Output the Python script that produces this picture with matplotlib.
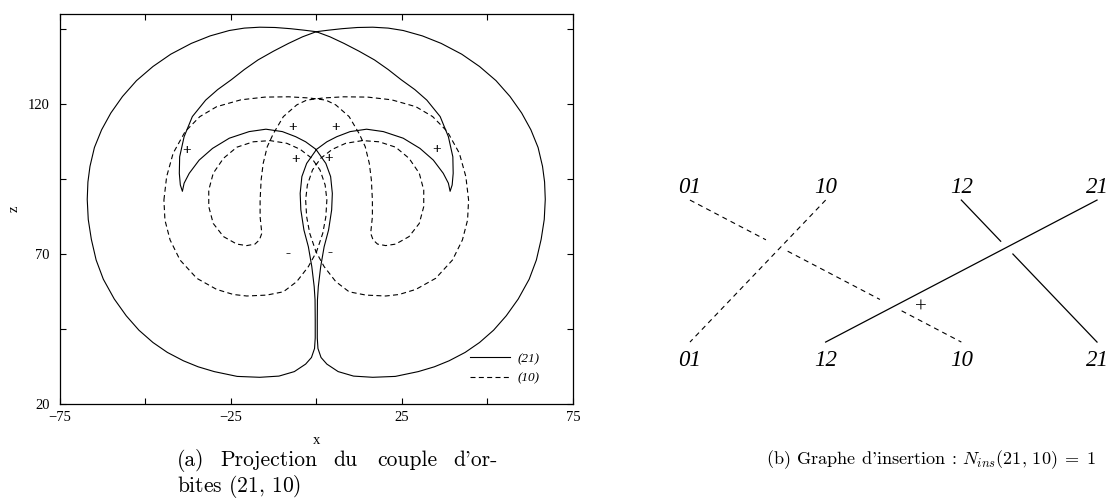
import matplotlib
matplotlib.use("Agg")
import matplotlib.pyplot as plt

plt.rcParams['font.family'] = ['Liberation Serif', 'DejaVu Serif']
plt.rcParams['mathtext.fontset'] = 'cm'
plt.rcParams['lines.scale_dashes'] = False

# orbite (21), trait plein (x, z)
x21 = [0.0, 4.0, 8.1, 12.5, 17.0, 21.0, 24.8, 28.8, 32.3, 36.2, 38.6, 39.9, 40.0, 39.7, 39.1,
       38.6, 37.1, 34.2, 30.3, 25.4, 19.6, 14.7, 9.9, 6.0, 3.1, 0.1,
       -2.8, -4.2, -4.7, -4.5, -3.6, -2.3, -1.3, -0.6, -0.35, -0.3, -0.3, -0.5, -1.4, -3.1, -6.4, -10.9, -16.5,
       -23.1, -29.8, -34.5, -38.8, -43.5, -47.7, -51.8, -55.5, -59.0, -62.2, -64.3, -65.7, -66.6, -66.9, -66.7,
       -66.1, -64.8, -62.7, -60.0, -56.6, -52.5, -47.7, -42.5, -36.5, -31.0, -25.4, -21.0, -16.5, -12.0, -7.5, -3.5,
       0.0, -4.0, -8.1, -12.5, -17.0, -21.0, -24.8, -28.8, -32.3, -36.2, -38.6, -39.9, -40.0, -39.7, -39.1,
       -38.6, -37.1, -34.2, -30.3, -25.4, -19.6, -14.7, -9.9, -6.0, -3.1, -0.1,
       2.8, 4.2, 4.7, 4.5, 3.6, 2.3, 1.3, 0.6, 0.35, 0.3, 0.3, 0.5, 1.4, 3.1, 6.4, 10.9, 16.5,
       23.1, 29.8, 34.5, 38.8, 43.5, 47.7, 51.8, 55.5, 59.0, 62.2, 64.3, 65.7, 66.6, 66.9, 66.7,
       66.1, 64.8, 62.7, 60.0, 56.6, 52.5, 47.7, 42.5, 36.5, 31.0, 25.4, 21.0, 16.5, 12.0, 7.5, 3.5, 0.0]
z21 = [144.1, 142.4, 140.2, 137.6, 134.7, 131.5, 128.1, 124.8, 121.3, 115.8, 109.1, 102.4, 96.9, 93.0, 90.9,
       93.6, 96.9, 101.3, 105.2, 108.6, 110.8, 111.6, 110.8, 109.1, 107.4, 104.9,
       100.2, 95.8, 90.2, 84.7, 78.0, 72.4, 65.8, 59.1, 54.7, 48.0, 42.0, 38.5, 35.5, 33.3, 30.8, 29.3, 28.9,
       29.2, 30.8, 32.4, 34.4, 37.2, 40.5, 44.6, 49.4, 55.0, 61.6, 68.0, 74.9, 81.5, 88.2, 94.0,
       99.2, 105.5, 111.4, 117.0, 122.5, 127.8, 132.5, 136.6, 140.2, 142.7, 144.5, 145.3, 145.6, 145.5, 145.1, 144.6,
       144.1, 142.4, 140.2, 137.6, 134.7, 131.5, 128.1, 124.8, 121.3, 115.8, 109.1, 102.4, 96.9, 93.0, 90.9,
       93.6, 96.9, 101.3, 105.2, 108.6, 110.8, 111.6, 110.8, 109.1, 107.4, 104.9,
       100.2, 95.8, 90.2, 84.7, 78.0, 72.4, 65.8, 59.1, 54.7, 48.0, 42.0, 38.5, 35.5, 33.3, 30.8, 29.3, 28.9,
       29.2, 30.8, 32.4, 34.4, 37.2, 40.5, 44.6, 49.4, 55.0, 61.6, 68.0, 74.9, 81.5, 88.2, 94.0,
       99.2, 105.5, 111.4, 117.0, 122.5, 127.8, 132.5, 136.6, 140.2, 142.7, 144.5, 145.3, 145.6, 145.5, 145.1, 144.6, 144.1]

# orbite (10), tirets
x10 = [-44.5, -43.7, -41.8, -38.3, -34.0, -29.1, -22.0, -15.0, -8.0, -2.0, 2.8, 5.7, 9.6, 12.5, 14.3, 15.5,
       16.1, 16.4, 16.4, 15.9, 16.6, 17.9, 20.3, 23.2, 27.1, 30.1, 31.4, 31.4, 30.1, 27.1, 23.2, 18.4, 13.5,
       8.6, 4.7, 1.3, -1.1, -2.6, -3.1, -2.8, -1.9, -0.1, 2.3, 5.7, 9.6, 14.5, 20.3, 24.2, 29.1, 34.9, 39.8,
       42.7, 44.2, 44.5,
       43.7, 41.8, 38.3, 34.0, 29.1, 22.0, 15.0, 8.0, 2.0, -2.8, -5.7, -9.6, -12.5, -14.3, -15.5,
       -16.1, -16.4, -16.4, -15.9, -16.6, -17.9, -20.3, -23.2, -27.1, -30.1, -31.4, -31.4, -30.1, -27.1, -23.2, -18.4, -13.5,
       -8.6, -4.7, -1.3, 1.1, 2.6, 3.1, 2.8, 1.9, 0.1, -2.3, -5.7, -9.6, -14.5, -20.3, -24.2, -29.1, -34.9, -39.8,
       -42.7, -44.2, -44.5]
z10 = [88.0, 95.8, 103.6, 110.8, 115.8, 119.1, 121.4, 122.3, 122.4, 122.0, 121.3, 119.7, 115.8, 110.2, 105.8, 100.2,
       94.7, 88.0, 82.4, 76.9, 74.7, 73.3, 72.8, 73.3, 75.8, 80.2, 85.8, 91.3, 96.9, 101.9, 105.6, 107.4, 107.8,
       106.9, 104.9, 101.9, 98.0, 93.0, 88.0, 82.4, 76.9, 70.8, 65.8, 60.8, 57.4, 56.3, 56.0, 56.5, 58.2, 61.9, 68.0,
       74.7, 81.3, 88.0,
       95.8, 103.6, 110.8, 115.8, 119.1, 121.4, 122.3, 122.4, 122.0, 121.3, 119.7, 115.8, 110.2, 105.8, 100.2,
       94.7, 88.0, 82.4, 76.9, 74.7, 73.3, 72.8, 73.3, 75.8, 80.2, 85.8, 91.3, 96.9, 101.9, 105.6, 107.4, 107.8,
       106.9, 104.9, 101.9, 98.0, 93.0, 88.0, 82.4, 76.9, 70.8, 65.8, 60.8, 57.4, 56.3, 56.0, 56.5, 58.2, 61.9, 68.0,
       74.7, 81.3, 88.0]

# signes des croisements
plus_x = [-38.0, -7.0, 5.5, 35.0, -5.9, 3.7]
plus_z = [104.5, 112.0, 112.0, 104.7, 101.4, 101.8]
minus_x = [-8.2, 4.0]
minus_z = [70.1, 70.4]

# graphe d'insertion
top_labels = ['01', '10', '12', '21']
bot_labels = ['01', '12', '10', '21']
strand_top = [0, 1, 2, 3]      # colonne de départ (en haut)
strand_bot = [2, 0, 3, 1]      # colonne d'arrivée (en bas)
strand_dashed = [True, True, False, False]
strand_gaps = [[(0.28, 0.36), (0.70, 0.78)], [], [(0.29, 0.38)], []]
cross_sign = (1.70, 0.24)

fig = plt.figure(figsize=(11.11, 5.03), dpi=100)

# ---- (a) projection
ax = fig.add_axes([59.5/1111, 99/503, 513.5/1111, 390/503])
ax.plot(x21, z21, color='black', lw=0.8, label='(21)')
ax.plot(x10, z10, color='black', lw=0.8, dashes=(3.6, 2.4), label='(10)')
for px, pz in zip(plus_x, plus_z):
    ax.text(px, pz, '+', ha='center', va='center', fontsize=11, fontweight='bold')
for px, pz in zip(minus_x, minus_z):
    ax.text(px, pz, '-', ha='center', va='center', fontsize=11, fontweight='bold')

ax.set_xlim(-75, 75)
ax.set_ylim(20, 150)
ax.set_xticks([-75, -25, 25, 75])
ax.set_xticklabels(['\u221275', '\u221225', '25', '75'])
ax.set_xticks([-50, 0, 50], minor=True)
ax.set_yticks([20, 70, 120])
ax.set_yticks([45, 95, 145], minor=True)
ax.tick_params(which='both', direction='in', top=True, right=True, length=4, width=0.8, labelsize=10.5)
ax.tick_params(axis='x', pad=5)
ax.tick_params(axis='y', pad=7)
for s in ax.spines.values():
    s.set_linewidth(0.9)
ax.set_xlabel('x', fontsize=10.5, labelpad=7)
ax.set_ylabel('z', fontsize=10.5)
ax.yaxis.set_label_coords(-0.075, 0.5)
ax.legend(loc='lower right', bbox_to_anchor=(0.935, 0.05), frameon=False, handlelength=3.0,
          prop={'style': 'italic', 'size': 9.5}, borderaxespad=0, borderpad=0, labelspacing=0.55,
          handletextpad=0.6)

# ---- (b) graphe d'insertion
ax2 = fig.add_axes([600/1111, 103/503, 511/1111, 260/503])
ax2.set_xlim(-0.663, 3.103)
ax2.set_ylim(-0.408, 1.423)
ax2.axis('off')
for t0, b0, dashed, gaps in zip(strand_top, strand_bot, strand_dashed, strand_gaps):
    cuts = [0.0] + [g for pair in gaps for g in pair] + [1.0]
    for a, b in zip(cuts[0::2], cuts[1::2]):
        xs = [t0 + a*(b0 - t0), t0 + b*(b0 - t0)]
        ys = [1 - a, 1 - b]
        if dashed:
            ax2.plot(xs, ys, color='black', lw=0.8, dashes=(3.6, 3.0))
        else:
            ax2.plot(xs, ys, color='black', lw=0.9)
for i, lab in enumerate(top_labels):
    ax2.text(i, 1.085, lab, ha='center', va='center', fontsize=16.5, style='italic')
for i, lab in enumerate(bot_labels):
    ax2.text(i, -0.127, lab, ha='center', va='center', fontsize=16.5, style='italic')
ax2.text(cross_sign[0], cross_sign[1], '+', ha='center', va='center', fontsize=15)

# ---- légendes
cap = {'family': ['cmr10', 'DejaVu Serif'], 'va': 'center'}
words_a = ['(a)', 'Projection', 'du', 'couple', "d'or-"]
words_x = [177, 220, 333, 377, 453]
for w, wx in zip(words_a, words_x):
    fig.text(wx/1111, 1 - 460/503, w, fontsize=15.5, **cap)
fig.text(177/1111, 1 - 486/503, r'bites $(21,\,10)$', fontsize=15.5, **cap)
fig.text(931/1111, 1 - 460/503, r"(b) Graphe d'insertion : $N_{ins}(21,\,10)\;=\;1$", ha='center',
         fontsize=13.1, **cap)

fig.savefig('out.png', dpi=100)
